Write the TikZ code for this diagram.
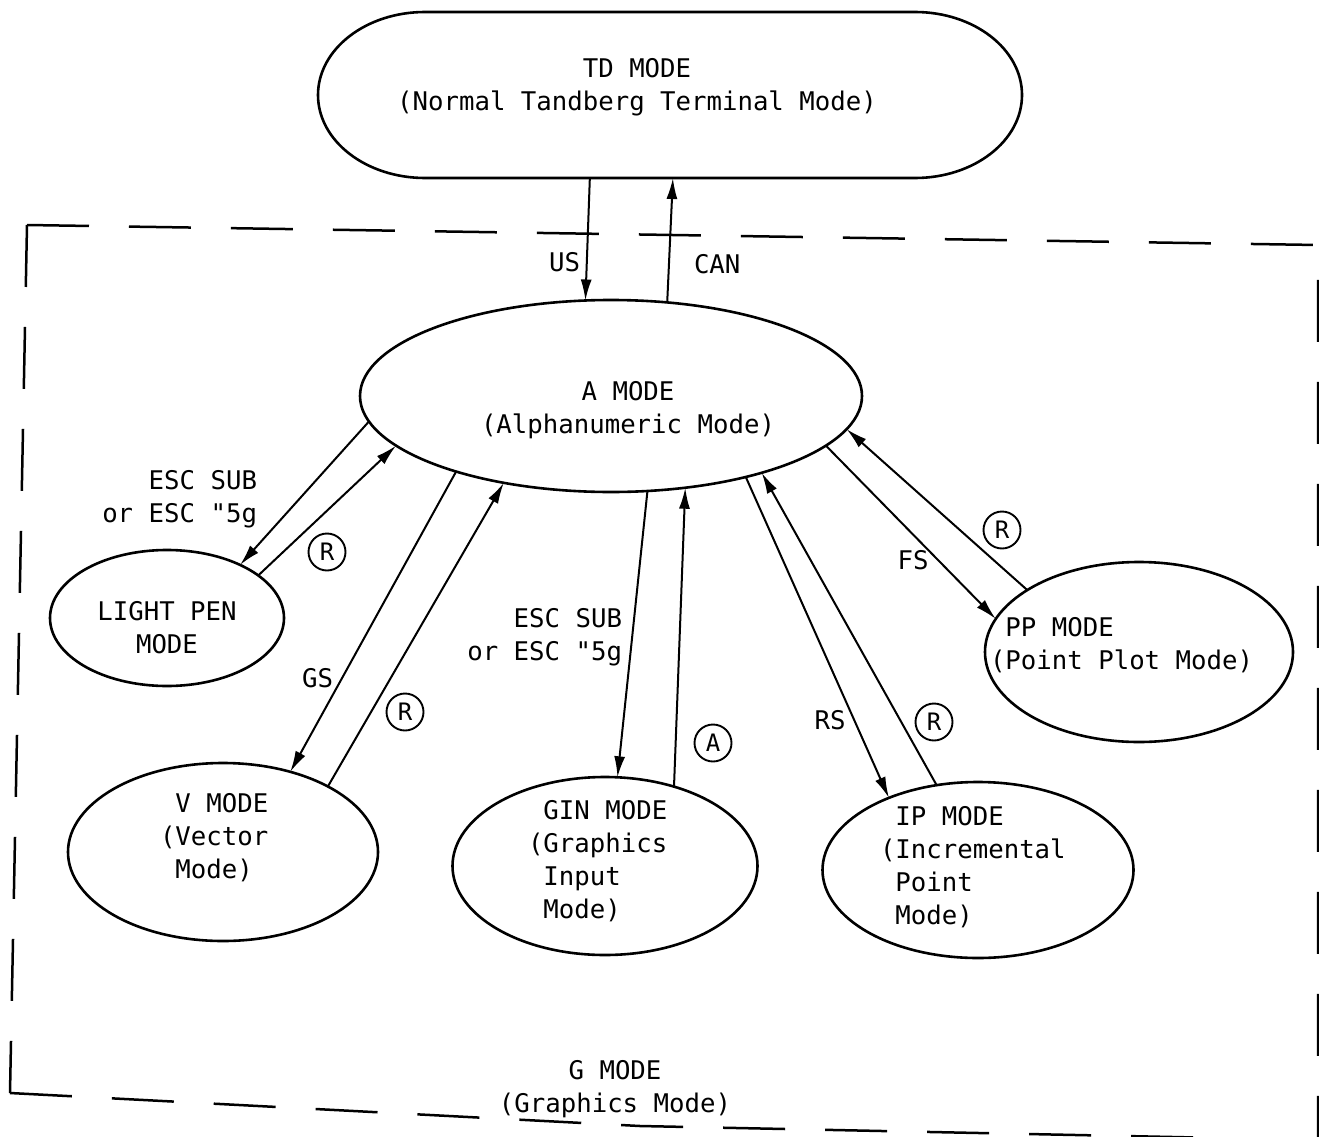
\documentclass[tikz,border=0pt]{standalone}
\usepackage{fontspec}
\setmonofont{DejaVu Sans Mono}
\usetikzlibrary{arrows.meta,shapes.geometric}
\newcommand\lblfont{\ttfamily\fontsize{25.7}{33}\selectfont}
\begin{document}
\begin{tikzpicture}[x=1pt,y=-1pt,
  modeell/.style={ellipse, draw, line width=2.6pt, inner sep=0pt, outer sep=0pt},
  txt/.style={font=\lblfont, inner sep=0pt, outer sep=0pt},
  arr/.style={line width=2pt, -{Latex[length=21pt,width=11pt]}},
  circ/.style={circle, draw, line width=1.9pt, minimum size=37pt, inner sep=0pt,
               font=\ttfamily\fontsize{24}{24}\selectfont},
  gbox/.style={line width=2.5pt, dash pattern=on 62pt off 40pt}]
\useasboundingbox (0,0) rectangle (1319,1137);

% G MODE dashed region
\coordinate (g1) at (27,225);
\coordinate (g2) at (1318,245);
\coordinate (g3) at (1318,1140);
\coordinate (g4) at (10,1093);
\coordinate (gb) at (640,1126);
\draw[gbox] (g1) -- (g2) -- (g3);
\draw[gbox] (g1) -- (g4);
\draw[gbox] (g4) -- (gb) -- (g3);

% mode nodes
\node[rectangle, minimum width=704pt, minimum height=166pt, inner sep=0pt, outer sep=0pt] (TD) at (670,95) {};
\draw[line width=2.6pt] (425,12) -- (915,12)
   arc[start angle=90, end angle=-90, x radius=107pt, y radius=83pt]
   -- (425,178)
   arc[start angle=270, end angle=90, x radius=107pt, y radius=83pt] -- cycle;
\node[modeell, minimum width=502pt, minimum height=192pt] (A) at (611,396) {};
\node[modeell, minimum width=234pt, minimum height=136pt] (LP) at (167,618) {};
\node[modeell, minimum width=310pt, minimum height=178pt] (V) at (223,852) {};
\node[modeell, minimum width=305pt, minimum height=178pt] (GIN) at (605,866) {};
\node[modeell, minimum width=311pt, minimum height=176pt] (IP) at (978,870) {};
\node[modeell, minimum width=308pt, minimum height=180pt] (PP) at (1139,652) {};

% texts in the modes
\node[txt, align=center] (TDt) at (637,87) {TD MODE\\(Normal Tandberg Terminal Mode)};
\node[txt, align=center] (At) at (628,410) {A MODE\\(Alphanumeric Mode)};
\node[txt, align=center] (LPt) at (167,628) {LIGHT PEN\\MODE};
\node[txt, align=left, anchor=west] (Vt) at (160,837) {\phantom{(}V MODE\\(Vector\\\phantom{(}Mode)};
\node[txt, align=left, anchor=west] (GINt) at (528,861) {\phantom{(}GIN MODE\\(Graphics\\\phantom{(}Input\\\phantom{(}Mode)};
\node[txt, align=left, anchor=west] (IPt) at (880,867) {\phantom{(}IP MODE\\(Incremental\\\phantom{(}Point\\\phantom{(}Mode)};
\node[txt, align=left, anchor=west] (PPt) at (990,645) {\phantom{(}PP MODE\\(Point Plot Mode)};
\node[txt, align=center] (Gt) at (615,1089) {G MODE\\(Graphics Mode)};

% connectors
\draw[arr] (TD.-134.7) -- (A.105.9);
\draw[arr] (A.59.2) -- (TD.-88.6);
\draw[arr] (A.-174.6) -- (LP.36.7);
\draw[arr] (LP.25.3) -- (A.-167.4);
\draw[arr] (A.-154.7) -- (V.50.4);
\draw[arr] (V.32.9) -- (A.-141.4);
\draw[arr] (A.-69.6) -- (GIN.82.4);
\draw[arr] (GIN.49.1) -- (A.-51.4);
\draw[arr] (A.-31.8) -- (IP.141.9);
\draw[arr] (IP.116.3) -- (A.-27.0);
\draw[arr] (A.-13.5) -- (PP.167.0);
\draw[arr] (PP.151.1) -- (A.-8.8);

% connector labels
\node[txt, anchor=east] (lUS) at (580,262) {US};
\node[txt, anchor=west] (lCAN) at (694,264) {CAN};
\node[txt, align=right, anchor=east] (lLP) at (257,499) {ESC SUB\\or ESC "5g};
\node[circ] (rLP) at (327,552) {R};
\node[txt, anchor=east] (lGS) at (333,678) {GS};
\node[circ] (rV) at (405,712) {R};
\node[txt, align=right, anchor=east] (lGIN) at (622,637) {ESC SUB\\or ESC "5g};
\node[circ] (aGIN) at (713,743) {A};
\node[txt] (lRS) at (830,720) {RS};
\node[circ] (rIP) at (934,722) {R};
\node[txt] (lFS) at (913,560) {FS};
\node[circ] (rPP) at (1002,530) {R};
\end{tikzpicture}
\end{document}
